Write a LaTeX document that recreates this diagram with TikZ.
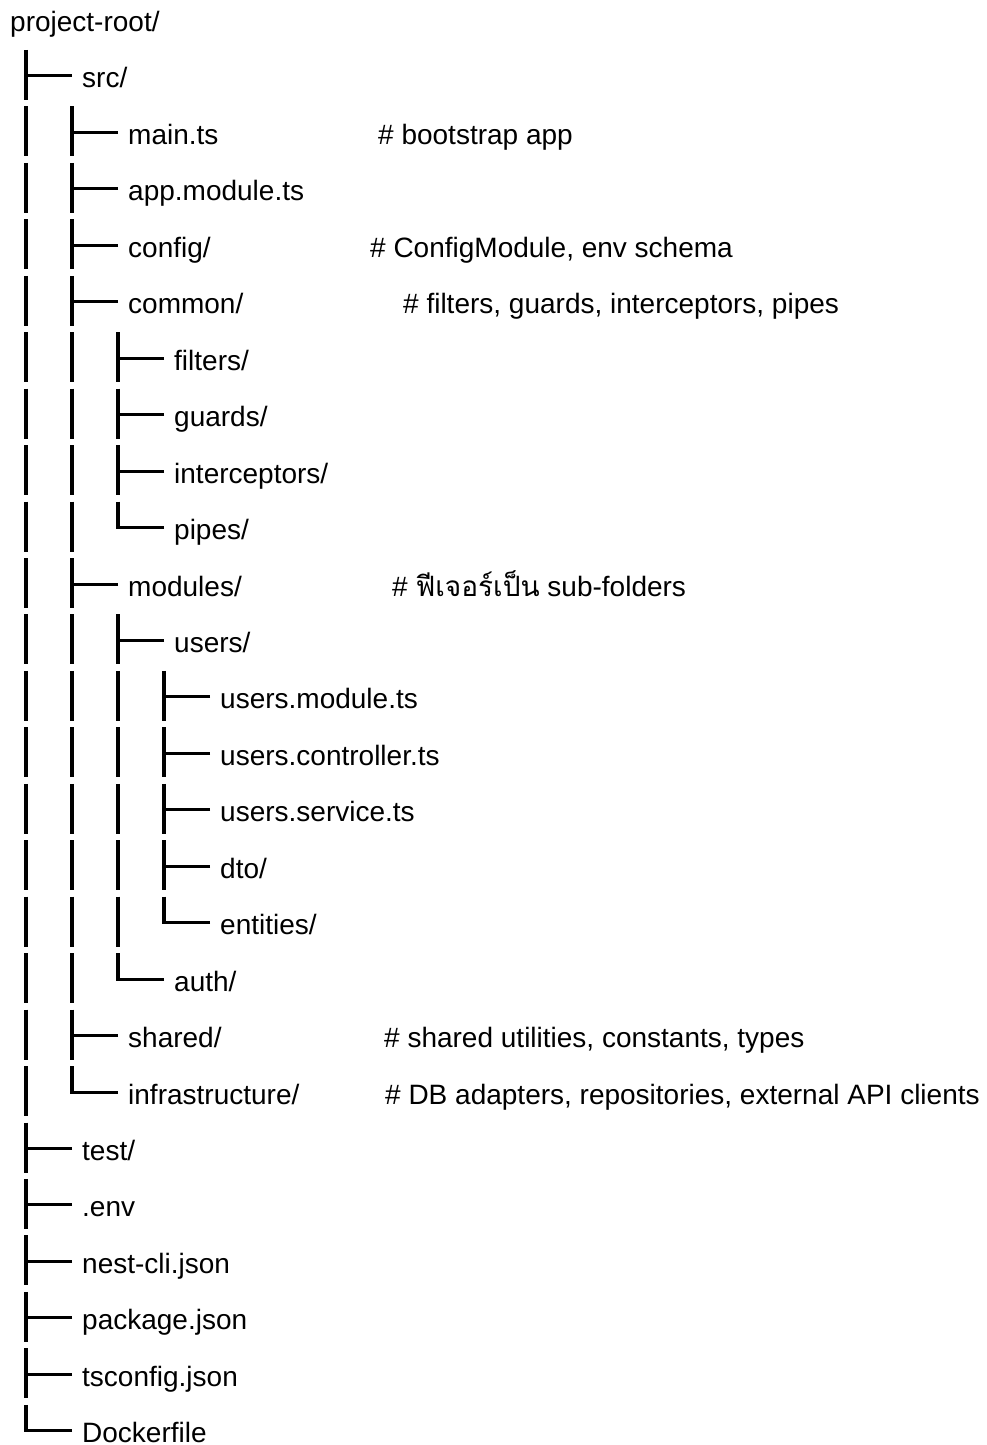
\documentclass[tikz,border=0pt]{standalone}
\usepackage{fontspec}
\setmainfont{Liberation Sans}
\newfontfamily\thaifont[Script=Thai]{Loma}
\usepackage{tikz}
\usetikzlibrary{positioning}
\tikzset{
    %Define style for file and folder names
    entry/.style={
           anchor=base west,
           inner sep=0pt,
           font=\fontsize{28}{34}\selectfont},
    %Define style for comments
    note/.style={
           anchor=base west,
           inner sep=0pt,
           font=\fontsize{28}{34}\selectfont},
    % Define line styles
    trunk/.style={line width=3.2pt},
    branch/.style={line width=3pt},
    % Define glyph pieces of the tree
    pics/glyph b/.style={code={\draw[trunk] (0,26) -- (0,-24);}},
    pics/glyph t/.style={code={\draw[trunk] (0,26) -- (0,-24);}},
    pics/glyph l/.style={code={\draw[trunk] (0,26) -- (0,-1.5);}}
}
% #1 row, #2 glyphs, #3 name, #4 text
\newcommand{\treerow}[4]{%
  \foreach \g [count=\c] in {#2} {
    \pic at ({26+46*(\c-1)}, {-(19.5+56.45*#1)}) {glyph \g};
    \xdef\lvl{\c}
  }
  \node[entry] (#3) at ({82+46*(\lvl-1)}, {-(19.5+56.45*#1)-12}) {#4};
  \draw[branch] ([xshift=-10pt,yshift=12pt]#3.base west) -- ++(-46,0);
}

\begin{document}
\begin{tikzpicture}[x=1pt,y=1pt]
\useasboundingbox (0,0) rectangle (986,-1445);
\node[entry] (root) at (10,-32) {project-root/};
\treerow{1}{t}{src}{src/}
\treerow{2}{b,t}{maints}{main.ts}
\treerow{3}{b,t}{appmodule}{app.module.ts}
\treerow{4}{b,t}{config}{config/}
\treerow{5}{b,t}{common}{common/}
\treerow{6}{b,b,t}{filters}{filters/}
\treerow{7}{b,b,t}{guards}{guards/}
\treerow{8}{b,b,t}{interceptors}{interceptors/}
\treerow{9}{b,b,l}{pipes}{pipes/}
\treerow{10}{b,t}{modules}{modules/}
\treerow{11}{b,b,t}{users}{users/}
\treerow{12}{b,b,b,t}{usersmodule}{users.module.ts}
\treerow{13}{b,b,b,t}{userscontroller}{users.controller.ts}
\treerow{14}{b,b,b,t}{usersservice}{users.service.ts}
\treerow{15}{b,b,b,t}{dto}{dto/}
\treerow{16}{b,b,b,l}{entities}{entities/}
\treerow{17}{b,b,l}{auth}{auth/}
\treerow{18}{b,t}{shared}{shared/}
\treerow{19}{b,l}{infra}{infrastructure/}
\treerow{20}{t}{test}{test/}
\treerow{21}{t}{env}{.env}
\treerow{22}{t}{nestcli}{nest-cli.json}
\treerow{23}{t}{package}{package.json}
\treerow{24}{t}{tsconfig}{tsconfig.json}
\treerow{25}{l}{dockerfile}{Dockerfile}
% comments
\node[note] (n-main) at (378,0 |- maints.base) {\# bootstrap app};
\node[note] (n-config) at (370,0 |- config.base) {\# ConfigModule, env schema};
\node[note] (n-common) at (403,0 |- common.base) {\# filters, guards, interceptors, pipes};
\node[note] (n-modules) at (392,0 |- modules.base) {\# {\thaifont ฟีเจอร์เป็น} sub-folders};
\node[note] (n-shared) at (384,0 |- shared.base) {\# shared utilities, constants, types};
\node[note] (n-infra) at (385,0 |- infra.base) {\# DB adapters, repositories, external API clients};
\end{tikzpicture}
\end{document}
